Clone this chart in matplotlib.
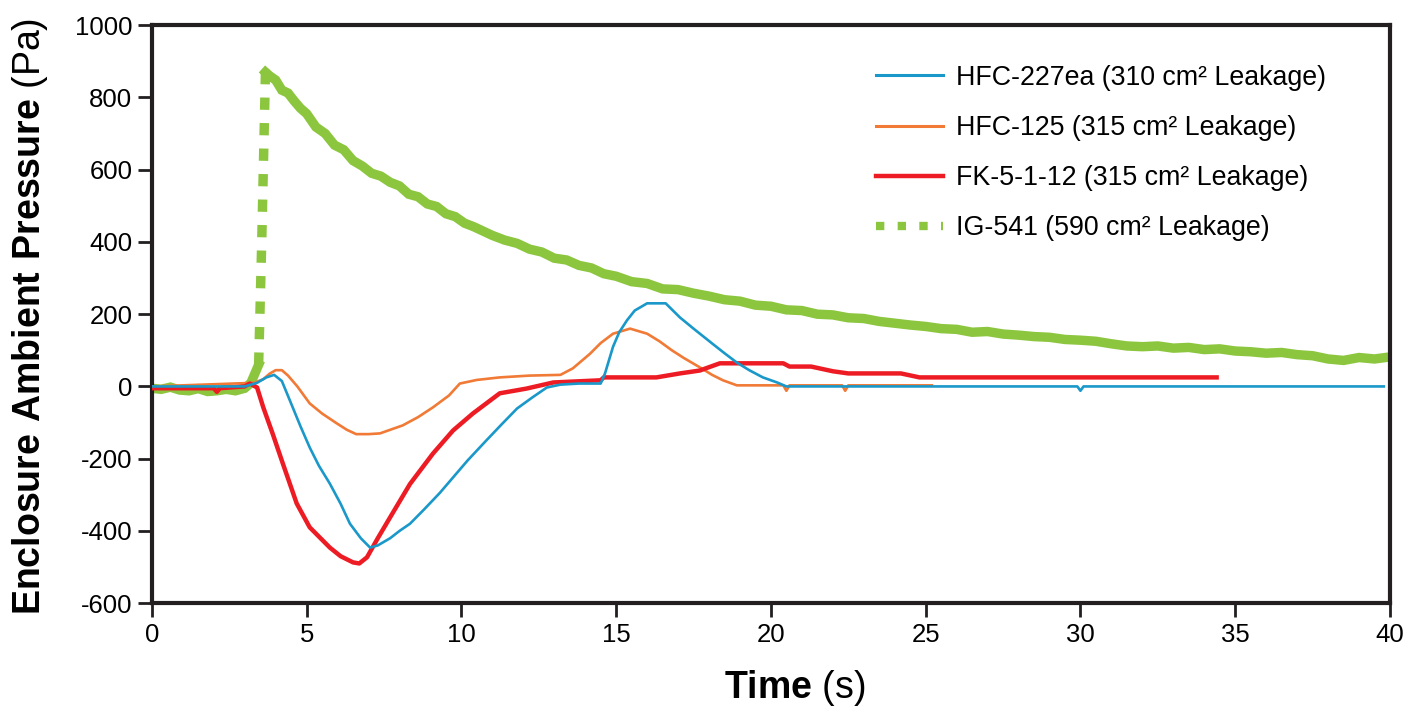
import matplotlib
matplotlib.use('Agg')
import matplotlib.pyplot as plt
from matplotlib.lines import Line2D

plt.rcParams['font.family'] = ['Liberation Sans', 'DejaVu Sans']
plt.rcParams['mathtext.fontset'] = 'custom'
plt.rcParams['mathtext.bf'] = 'Liberation Sans:bold'
plt.rcParams['mathtext.rm'] = 'Liberation Sans'
plt.rcParams['axes.unicode_minus'] = False

# ── data (time in s, pressure in Pa) ───────────────────────────────────────
hfc227_t = [0, 3.0, 3.4, 3.7, 3.95, 4.2, 4.46, 4.8, 5.1, 5.4, 5.75, 6.1, 6.4, 6.75, 7.05,
            7.3, 7.7, 8.0, 8.34, 8.8, 9.3, 9.73, 10.2, 10.8, 11.3, 11.8, 12.3, 12.76, 13.2,
            13.8, 14.5, 14.64, 14.9, 15.1, 15.35, 15.6, 16.0, 16.6, 17.06, 17.5, 18.1, 18.5,
            18.9, 19.3, 19.74, 20.2, 20.5, 29.9, 30.0, 30.1, 39.8]
hfc227_p = [0, 0, 10, 25, 32, 15, -39, -110, -169, -220, -269, -325, -380, -420, -446,
            -440, -420, -400, -380, -340, -295, -252, -205, -150, -105, -61, -30, -3, 5,
            8, 8, 36, 110, 150, 183, 210, 230, 230, 191, 160, 119, 92,
            66, 45, 25, 11, 0, 0, -12, 0, 0]

hfc125_t = [0, 3.3, 3.6, 3.8, 4.0, 4.2, 4.4, 4.7, 5.1, 5.5, 5.97, 6.3, 6.6, 7.0, 7.37, 7.7,
            8.1, 8.6, 9.08, 9.6, 9.95, 10.5, 11.24, 12.2, 13.2, 13.6, 14.15, 14.5, 14.9,
            15.45, 16.0, 16.4, 16.8, 17.2, 17.7, 18.1, 18.45, 18.9, 20.4, 20.5, 20.6, 22.3,
            22.4, 22.5, 25.2]
hfc125_p = [0, 10, 20, 35, 45, 45, 30, 0, -47, -75, -102, -120, -132, -132, -130, -120,
            -108, -85, -58, -25, 8, 18, 25, 30, 32, 50, 90, 120, 146,
            160, 146, 125, 100, 78, 53, 32, 17, 3, 3, -12, 3, 3,
            -12, 3, 3]

fk_t = [0, 2.0, 2.1, 2.2, 3.0, 3.17, 3.4, 3.6, 3.9, 4.23, 4.68, 5.1, 5.75, 6.1, 6.5, 6.7,
        6.95, 7.3, 7.7, 8.34, 9.08, 9.73, 10.37, 11.24, 12.1, 12.97, 14.5, 14.6, 16.3, 17.06,
        17.7, 18.35, 20.4, 20.6, 21.3, 22.0, 22.5, 24.2, 24.8, 34.4]
fk_p = [-5, -5, -15, -5, 0, 8, -3, -58, -130, -213, -324, -390, -446, -470, -487, -490,
        -473, -420, -362, -270, -186, -122, -75, -19, -6, 11, 17, 25, 25, 36,
        44, 64, 64, 55, 55, 42, 36, 36, 25, 25]

# IG-541: flat start, jump (dashed part) and slow decay
ig_pre_t = [0, 0.3, 0.6, 0.9, 1.2, 1.5, 1.8, 2.1, 2.4, 2.7, 3.0, 3.2, 3.45]
ig_pre_p = [-5, -8, -2, -10, -12, -6, -14, -12, -8, -12, -5, 10, 60]
ig_jump_t = [3.45, 3.55, 3.67]
ig_jump_p = [60, 400, 870]
ig_t = [3.67, 3.8, 4.0, 4.2, 4.4, 4.6, 4.8, 5.0, 5.3, 5.6, 5.9, 6.2, 6.5, 6.8, 7.1, 7.4,
        7.7, 8.0, 8.3, 8.6, 8.9, 9.2, 9.5, 9.8, 10.1, 10.4, 10.7, 11.0, 11.4, 11.8, 12.2,
        12.6, 13.0, 13.4, 13.8, 14.2, 14.6, 15.0, 15.5, 16.0, 16.5, 17.0, 17.5, 18.0, 18.5,
        19.0, 19.5, 20.0, 20.5, 21.0, 21.5, 22.0, 22.5, 23.0, 23.5, 24.0, 24.5, 25.0, 25.5,
        26.0, 26.5, 27.0, 27.5, 28.0, 28.5, 29.0, 29.5, 30.0, 30.5, 31.0, 31.5, 32.0, 32.5,
        33.0, 33.5, 34.0, 34.5, 35.0, 35.5, 36.0, 36.5, 37.0, 37.5, 38.0, 38.5, 39.0, 39.5,
        39.85]
ig_p = [870, 860, 848, 820, 812, 790, 770, 755, 718, 700, 668, 655, 625, 610, 590, 582,
        565, 555, 532, 525, 505, 498, 478, 470, 452, 442, 430, 418, 405, 396, 380,
        372, 355, 350, 335, 328, 312, 305, 290, 285, 270, 268, 258, 250, 240,
        236, 225, 222, 212, 210, 200, 198, 190, 188, 180, 175, 170, 166, 160,
        158, 150, 152, 145, 142, 138, 136, 130, 128, 125, 118, 112, 110, 112,
        106, 108, 102, 104, 98, 96, 92, 94, 88, 85, 76, 72, 80, 76,
        80]

labels = ['HFC-227ea (310 cm² Leakage)', 'HFC-125 (315 cm² Leakage)',
          'FK-5-1-12 (315 cm² Leakage)', 'IG-541 (590 cm² Leakage)']
colors = {'blue': '#1a98c9', 'orange': '#f07a36', 'red': '#ed1c24', 'green': '#8cc63f'}

fig = plt.figure(figsize=(14.06, 7.08), dpi=100)
ax = fig.add_axes([0.108, 0.148, 0.8806, 0.8165])

ig_dash = (1.3, 1.4)
ax.plot(ig_pre_t, ig_pre_p, color=colors['green'], lw=6.8, solid_joinstyle='miter', zorder=2)
ax.plot(ig_jump_t, ig_jump_p, color=colors['green'], lw=6.8, dashes=ig_dash,
        dash_capstyle='butt', zorder=2)
ax.plot(ig_t, ig_p, color=colors['green'], lw=6.8, solid_joinstyle='miter', zorder=2)
ax.plot(hfc125_t, hfc125_p, color=colors['orange'], lw=1.9, zorder=3)
ax.plot(fk_t, fk_p, color=colors['red'], lw=3.2, zorder=4)
ax.plot(hfc227_t, hfc227_p, color=colors['blue'], lw=1.9, zorder=5)

handles = [Line2D([], [], color=colors['blue'], lw=2.2),
           Line2D([], [], color=colors['orange'], lw=2.2),
           Line2D([], [], color=colors['red'], lw=3.2),
           Line2D([], [], color=colors['green'], lw=6, dashes=(1.0, 1.6))]
ax.legend(handles, labels, loc='upper right', bbox_to_anchor=(0.968, 0.973),
          frameon=False, fontsize=19.3, handlelength=2.5, handletextpad=0.5,
          labelspacing=0.9)

ax.set_xlim(0, 40)
ax.set_ylim(-600, 1000)
ax.set_xticks(range(0, 41, 5))
ax.set_yticks(range(-600, 1001, 200))
ax.tick_params(axis='both', labelsize=18.5, length=10, width=2, direction='out',
               color='#231f20', pad=4)
for s in ax.spines.values():
    s.set_linewidth(3)
    s.set_color('#231f20')

ax.set_xlabel(r'$\mathbf{Time}$ (s)', fontsize=27)
ax.set_ylabel(r'$\mathbf{Enclosure\ Ambient\ Pressure}$ (Pa)', fontsize=27)
ax.xaxis.set_label_coords(0.519, -0.112)
ax.yaxis.set_label_coords(-0.082, 0.497)

fig.savefig('out.png', dpi=100)
